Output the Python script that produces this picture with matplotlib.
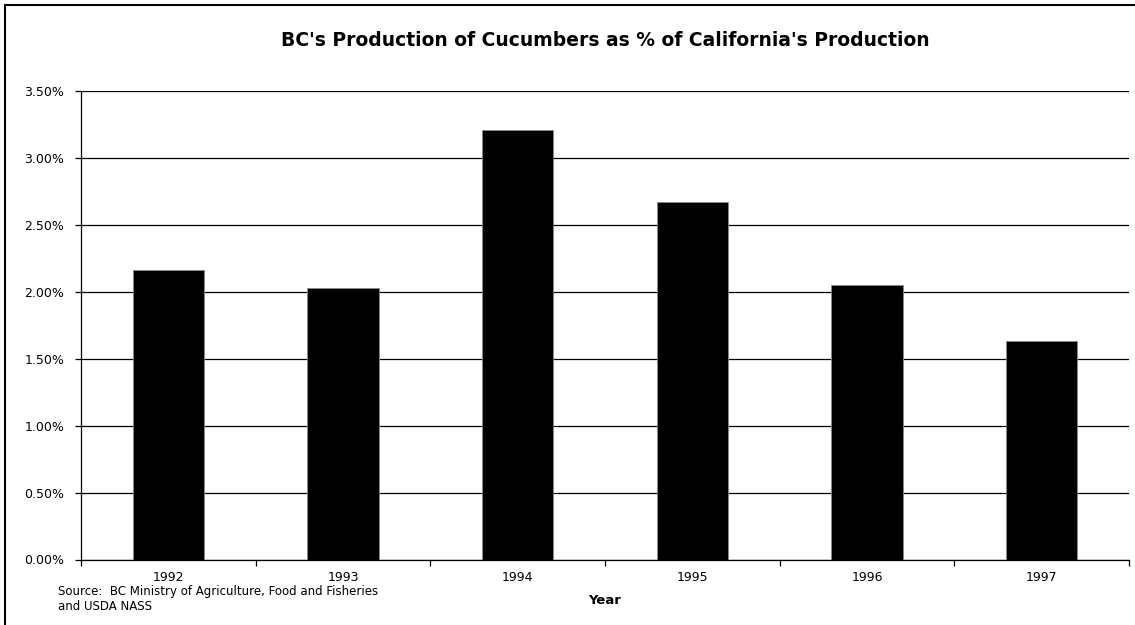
import matplotlib
matplotlib.use("Agg")
import matplotlib.pyplot as plt
from matplotlib.patches import Rectangle
from matplotlib.ticker import FixedLocator, FuncFormatter
import numpy as np

years = ["1992", "1993", "1994", "1995", "1996", "1997"]
share_pct = [2.16, 2.03, 3.21, 2.67, 2.05, 1.63]
y_ticks = [0.0, 0.5, 1.0, 1.5, 2.0, 2.5, 3.0, 3.5]

title = "BC's Production of Cucumbers as % of California's Production"
x_label = "Year"
source = "Source:  BC Ministry of Agriculture, Food and Fisheries\nand USDA NASS"

plt.rcParams['font.family'] = ['DejaVu Sans']

W, H = 1135, 625
fig = plt.figure(figsize=(W / 100, H / 100), dpi=100)
ax = fig.add_axes([81 / W, (H - 559.5) / H, (1129 - 81) / W, (559.5 - 90.7) / H])

x = np.arange(len(years))
ax.bar(x, share_pct, width=0.41, color="black", edgecolor="#888888", linewidth=0.6, zorder=3)

ax.set_xlim(-0.5, len(years) - 0.5)
ax.set_ylim(0, 3.5)
ax.yaxis.set_major_locator(FixedLocator(y_ticks))
ax.yaxis.set_major_formatter(FuncFormatter(lambda v, p: f"{v:.2f}%"))
ax.grid(axis="y", color="black", linewidth=0.9, zorder=1)

ax.set_xticks(x)
ax.set_xticklabels(years)
ax.xaxis.set_minor_locator(FixedLocator(np.arange(-0.5, len(years), 1.0)))
ax.tick_params(axis="x", which="major", length=0, pad=8.5, labelsize=9)
ax.tick_params(axis="x", which="minor", length=4, width=0.9, direction="out")
ax.tick_params(axis="y", length=4, width=0.9, direction="out", pad=8, labelsize=9)

for s in ["top", "right"]:
    ax.spines[s].set_visible(False)
for s in ["left", "bottom"]:
    ax.spines[s].set_linewidth(0.9)
    ax.spines[s].set_zorder(4)

ax.set_xlabel(x_label, fontsize=9.5, fontweight="bold", labelpad=7)

fig.text(605 / W, 1 - 40 / H, title, ha="center", va="center",
         fontsize=13.5, fontweight="bold")
fig.text(58 / W, 1 - 599 / H, source, ha="left", va="center",
         fontsize=8.5, linespacing=1.15)

fig.patches.append(Rectangle((5 / W, -0.1), 1.2, 1 - 5 / H + 0.1,
                             transform=fig.transFigure, fill=False,
                             edgecolor="black", linewidth=1.5, clip_on=False))

fig.savefig("out.png", dpi=100)
